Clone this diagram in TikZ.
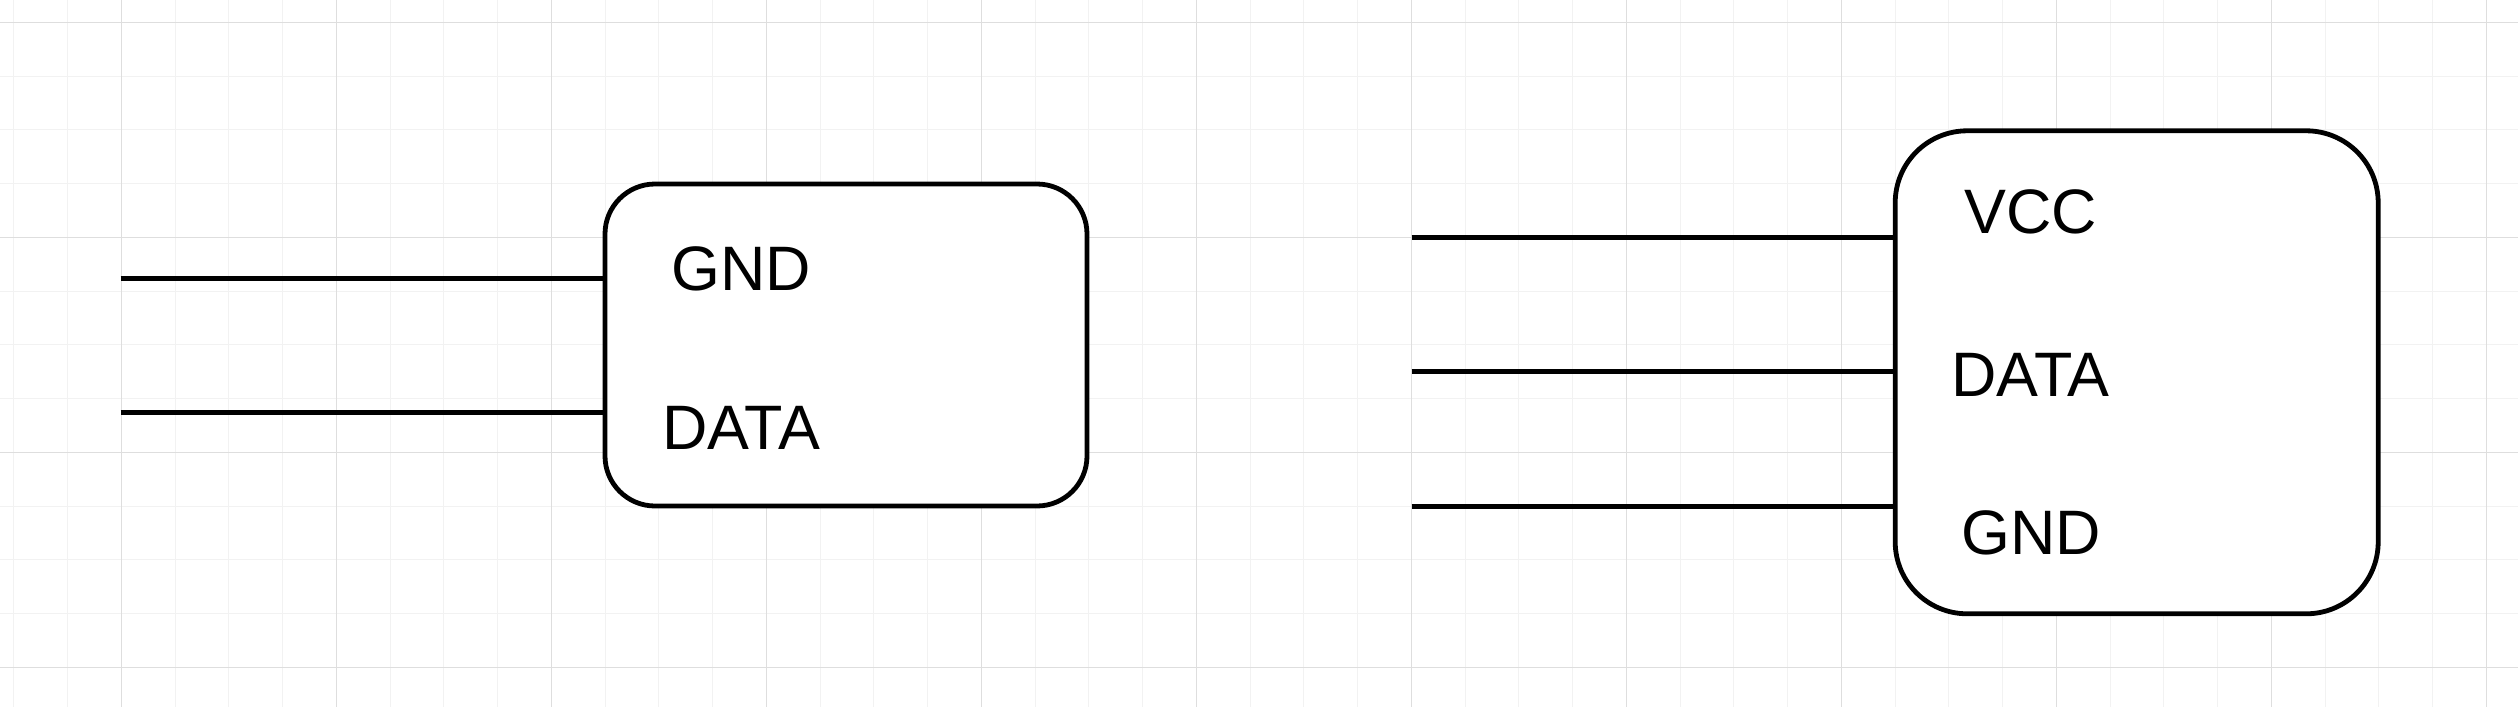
\documentclass[tikz,border=0pt]{standalone}
\usepackage{fontspec}
\setmainfont{Liberation Sans}
\usetikzlibrary{calc}
\definecolor{gridminor}{HTML}{F2F2F2}
\definecolor{gridmajor}{HTML}{DEDEDE}
\definecolor{wireblack}{HTML}{000000}

\begin{document}
\begin{tikzpicture}[
    x=0.5pt, y=-0.5pt,
    line cap=butt,
    line join=round,
    modbox/.style={draw=wireblack, line width=2.4pt, fill=white, inner sep=0pt},
    pinlabel/.style={anchor=base west, inner sep=0pt, font=\fontsize{31.4}{36}\selectfont},
    wire/.style={draw=wireblack, line width=2.5pt}
]

% Page and background grid
\useasboundingbox (0,0) rectangle (2518,707);
\fill[white] (0,0) rectangle (2518,707);
\foreach \k in {0,...,46} {
  \draw[gridminor, line width=0.5pt] (13.9+\k*53.75,0) -- (13.9+\k*53.75,707);
}
\foreach \k in {0,...,12} {
  \draw[gridminor, line width=0.5pt] (0,22.3+\k*53.75) -- (2518,22.3+\k*53.75);
}
\foreach \k in {0,...,11} {
  \draw[gridmajor, line width=0.5pt] (121.4+\k*215,0) -- (121.4+\k*215,707);
}
\foreach \k in {0,...,3} {
  \draw[gridmajor, line width=0.5pt] (0,22.3+\k*215) -- (2518,22.3+\k*215);
}

% Left module (two pins)
\node[modbox, rounded corners=25pt, minimum width=241pt, minimum height=161pt] (modA) at (846,345) {};
\node[pinlabel] (modAgnd) at (671,290) {GND};
\node[pinlabel] (modAdata) at (662,449.3) {DATA};

% Right module (three pins)
\node[modbox, rounded corners=36pt, minimum width=241.5pt, minimum height=241.5pt] (modB) at (2136.7,372.3) {};
\node[pinlabel] (modBvcc) at (1964,233.5) {VCC};
\node[pinlabel] (modBdata) at (1951,396.7) {DATA};
\node[pinlabel] (modBgnd) at (1961,554.5) {GND};

% Wire ends
\coordinate (wA1) at (120.5,278.3);
\coordinate (wA2) at (120.5,412.5);
\coordinate (wB1) at (1411.5,237.7);
\coordinate (wB2) at (1411.5,371.7);
\coordinate (wB3) at (1411.5,506);

% Wires
\draw[wire] (wA1) -- (wA1 -| modA.west);
\draw[wire] (wA2) -- (wA2 -| modA.west);
\draw[wire] (wB1) -- (wB1 -| modB.west);
\draw[wire] (wB2) -- (wB2 -| modB.west);
\draw[wire] (wB3) -- (wB3 -| modB.west);

\end{tikzpicture}
\end{document}
